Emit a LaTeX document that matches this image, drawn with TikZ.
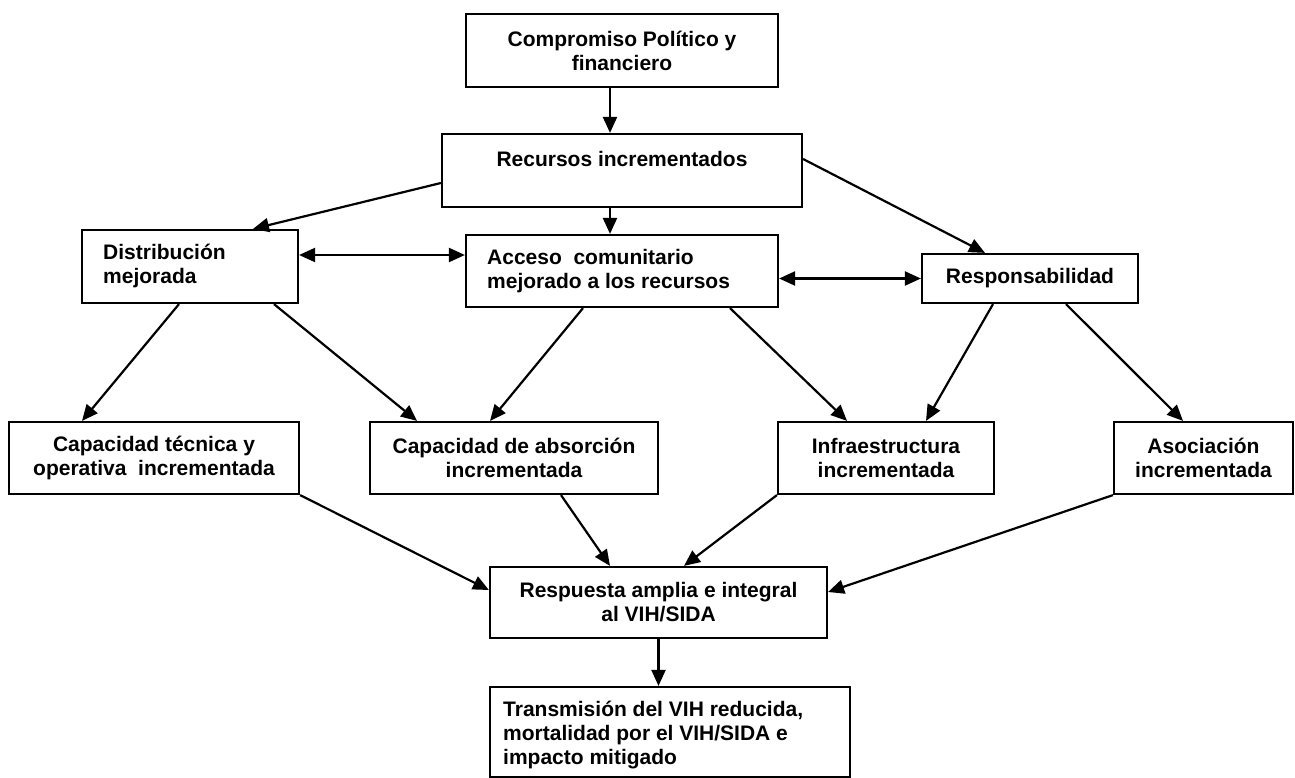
\documentclass[tikz,border=0pt]{standalone}
\usepackage{fontspec}
\setmainfont{Liberation Sans}
\usetikzlibrary{arrows.meta,calc}
\tikzset{
  box/.style={draw, line width=2.2pt, inner sep=0pt, rectangle},
  lbl/.style={font=\fontsize{21}{24}\selectfont\bfseries, align=center, inner sep=0pt},
  lbll/.style={font=\fontsize{21}{24}\selectfont\bfseries, align=left, inner sep=0pt, anchor=west},
  arr/.style={line width=2.2pt, -{Triangle[length=16pt,width=14pt]}},
  darr/.style={line width=2.2pt, {Triangle[length=16pt,width=14pt]}-{Triangle[length=16pt,width=14pt]}},
}
\begin{document}
\begin{tikzpicture}[x=1pt,y=-1pt]
\useasboundingbox[fill=white] (0,0) rectangle (1295,778);
% boxes
\node[box, minimum width=312pt, minimum height=73pt] (b1) at (622,50.5) {};
\node[box, minimum width=360pt, minimum height=73pt] (b2) at (622,170.5) {};
\node[box, minimum width=216pt, minimum height=73pt] (b3) at (190,266.5) {};
\node[box, minimum width=312pt, minimum height=72pt] (b4) at (622,271) {};
\node[box, minimum width=216pt, minimum height=49pt] (b5) at (1030,278.5) {};
\node[box, minimum width=290pt, minimum height=72pt] (b6) at (154,458) {};
\node[box, minimum width=288pt, minimum height=72pt] (b7) at (514,458) {};
\node[box, minimum width=216pt, minimum height=72pt] (b8) at (886,458) {};
\node[box, minimum width=179pt, minimum height=72pt] (b9) at (1203.5,458) {};
\node[box, minimum width=337pt, minimum height=71pt] (b10) at (658.5,602.5) {};
\node[box, minimum width=360pt, minimum height=90pt] (b11) at (670,732) {};
% texts
\node[lbl] (t1) at (b1) {Compromiso Político y\\financiero};
\node[lbl] (t2) at (622,159) {Recursos incrementados};
\node[lbll] (t3) at (103,266) {Distribución\\mejorada};
\node[lbll] (t4) at (487,271) {Acceso\ \ comunitario\\mejorado a los recursos};
\node[lbl] (t5) at (b5) {Responsabilidad};
\node[lbl] (t6) at (b6) {Capacidad técnica y\\operativa\ \ incrementada};
\node[lbl] (t7) at (b7) {Capacidad de absorción\\incrementada};
\node[lbl] (t8) at (b8) {Infraestructura\\incrementada};
\node[lbl] (t9) at (b9) {Asociación\\incrementada};
\node[lbl] (t10) at (b10) {Respuesta amplia e integral\\al VIH/SIDA};
\node[lbll] (t11) at (503,735) {Transmisión del VIH reducida,\\mortalidad por el VIH/SIDA e\\impacto mitigado};
% connectors
\draw[arr] ([xshift=-12pt]b1.south) -- ([xshift=-12pt]b2.north);
\draw[arr] ([yshift=-12.5pt]b2.west) -- ([xshift=63pt]b3.north);
\draw[arr] ([xshift=-12pt]b2.south) -- ([xshift=-12pt]b4.north);
\draw[arr] ([yshift=11.5pt]b2.east) -- ([xshift=-45pt]b5.north);
\draw[darr] ([yshift=11.5pt]b3.east) -- ([yshift=11.5pt]b3.east -| b4.west);
\draw[darr] (b5.west -| b4.east) -- (b5.west);
\draw[arr] ([xshift=-11pt]b3.south) -- ([xshift=-72pt]b6.north);
\draw[arr] ([xshift=84pt]b3.south) -- ([xshift=-97pt]b7.north);
\draw[arr] ([xshift=-39pt]b4.south) -- ([xshift=-24pt]b7.north);
\draw[arr] ([xshift=108pt]b4.south) -- ([xshift=-39pt]b8.north);
\draw[arr] ([xshift=-37pt]b5.south) -- ([xshift=40pt]b8.north);
\draw[arr] ([xshift=36pt]b5.south) -- ([xshift=-20.5pt]b9.north);
\draw[arr] (b6.south east) -- ([yshift=12.5pt]b10.west);
\draw[arr] ([xshift=47pt]b7.south) -- ([xshift=-48.5pt]b10.north);
\draw[arr] (b8.south west) -- ([xshift=25.5pt]b10.north);
\draw[arr] (b9.south west) -- ([yshift=10.5pt]b10.east);
\draw[arr] (b10.south) -- (b10.south |- b11.north);
\end{tikzpicture}
\end{document}
